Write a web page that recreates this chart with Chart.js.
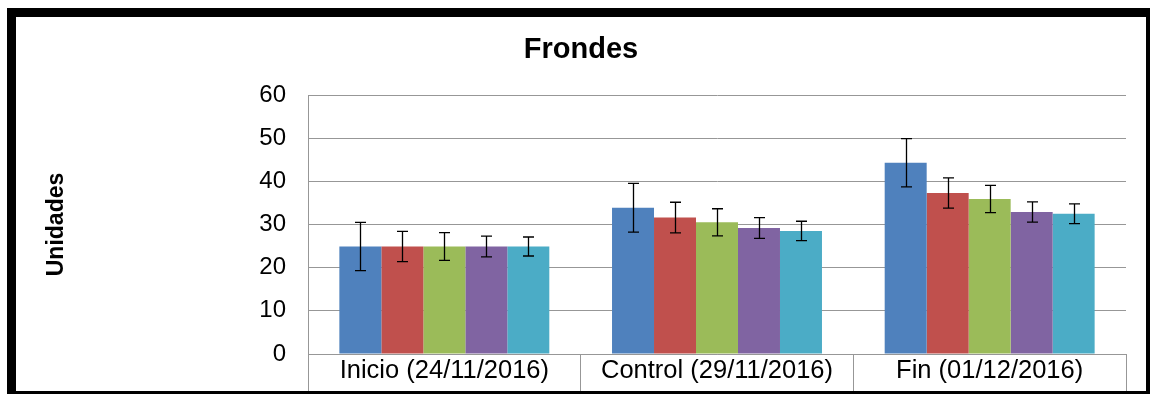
<!DOCTYPE html>
<html>
<head>
<meta charset="utf-8">
<title>Frondes</title>
<script src="https://cdn.jsdelivr.net/npm/chart.js@4"></script>
<style>
  html, body { margin: 0; padding: 0; background: #fff; overflow: hidden; }
  body { width: 1150px; height: 394px; position: relative; }
  #frame {
    position: absolute; left: 7px; top: 8px;
    width: 1130px; height: 374px;
    border: 9px solid #000;
  }
  #wrap { position: absolute; left: 0; top: 0; width: 1130px; height: 374px; }
</style>
</head>
<body>
<div id="frame">
  <div id="wrap"><canvas id="chart"></canvas></div>
</div>
<script>
const categories = ["Inicio (24/11/2016)", "Control (29/11/2016)", "Fin (01/12/2016)"];

// Mean values per series
const serie1 = [24.9, 33.9, 44.3];
const serie2 = [24.9, 31.6, 37.3];
const serie3 = [24.9, 30.5, 35.9];
const serie4 = [24.9, 29.2, 32.9];
const serie5 = [24.9, 28.5, 32.5];

// Error (+/-) per series
const error1 = [5.6, 5.65, 5.6];
const error2 = [3.5, 3.55, 3.5];
const error3 = [3.2, 3.15, 3.15];
const error4 = [2.4, 2.4, 2.35];
const error5 = [2.2, 2.25, 2.3];

const yTicks = [0, 10, 20, 30, 40, 50, 60];

const colors = ["#4F81BD", "#C0504D", "#9BBB59", "#8064A2", "#4BACC6"];
const FONT = "'Liberation Sans', Arial, sans-serif";
const GRID = "#979797";

const seriesValues = [serie1, serie2, serie3, serie4, serie5];
const seriesErrors = [error1, error2, error3, error4, error5];

// Draws the +/- error bars on top of each bar
const errorBars = {
  id: "errorBars",
  afterDatasetsDraw(chart) {
    const ctx = chart.ctx;
    const y = chart.scales.y;
    ctx.save();
    ctx.strokeStyle = "#000";
    ctx.lineWidth = 1.3;
    chart.data.datasets.forEach((ds, i) => {
      const meta = chart.getDatasetMeta(i);
      meta.data.forEach((bar, j) => {
        const v = ds.data[j];
        const e = ds.errors[j];
        const top = y.getPixelForValue(v + e);
        const bottom = y.getPixelForValue(v - e);
        const x = Math.round(bar.x) + 0.5;
        ctx.beginPath();
        ctx.moveTo(x, top);
        ctx.lineTo(x, bottom);
        ctx.moveTo(x - 5.5, top);
        ctx.lineTo(x + 5.5, top);
        ctx.moveTo(x - 5.5, bottom);
        ctx.lineTo(x + 5.5, bottom);
        ctx.stroke();
      });
    });
    ctx.restore();
  }
};

new Chart(document.getElementById("chart"), {
  type: "bar",
  plugins: [errorBars],
  data: {
    labels: categories,
    datasets: seriesValues.map((vals, i) => ({
      label: "Serie " + (i + 1),
      data: vals,
      errors: seriesErrors[i],
      backgroundColor: colors[i],
      borderWidth: 0,
      categoryPercentage: 0.77,
      barPercentage: 1.0
    }))
  },
  options: {
    responsive: true,
    maintainAspectRatio: false,
    animation: false,
    layout: { padding: 0 },
    plugins: {
      legend: { display: false },
      tooltip: { enabled: false },
      title: {
        display: true,
        text: "Frondes",
        color: "#000",
        font: { family: FONT, size: 29, weight: "bold" },
        padding: { top: 16, bottom: 27.2 }
      }
    },
    scales: {
      x: {
        afterFit: (s) => { s.height = 37; },
        grid: {
          offset: true,
          drawOnChartArea: false,
          drawTicks: true,
          tickLength: 37,
          color: GRID
        },
        border: { color: GRID },
        ticks: {
          color: "#000",
          padding: -35,
          maxRotation: 0,
          font: { family: FONT, size: 25.5 }
        }
      },
      y: {
        min: 0,
        max: 60,
        afterFit: (s) => { s.width = 292; },
        afterBuildTicks: (s) => { s.ticks = yTicks.map((v) => ({ value: v })); },
        grid: { drawTicks: false, color: GRID },
        border: { color: GRID },
        ticks: {
          color: "#000",
          padding: 22,
          font: { family: FONT, size: 24 }
        },
        title: {
          display: true,
          text: "Unidades",
          color: "#000",
          font: { family: FONT, size: 23, weight: "bold" },
          padding: { top: 27, bottom: 0 }
        }
      },
      // empty strip on the right so the plot ends short of the frame
      side: {
        position: "right",
        afterFit: (s) => { s.width = 20; },
        ticks: { display: false },
        grid: { display: false },
        border: { display: false }
      }
    }
  }
});
</script>
</body>
</html>
